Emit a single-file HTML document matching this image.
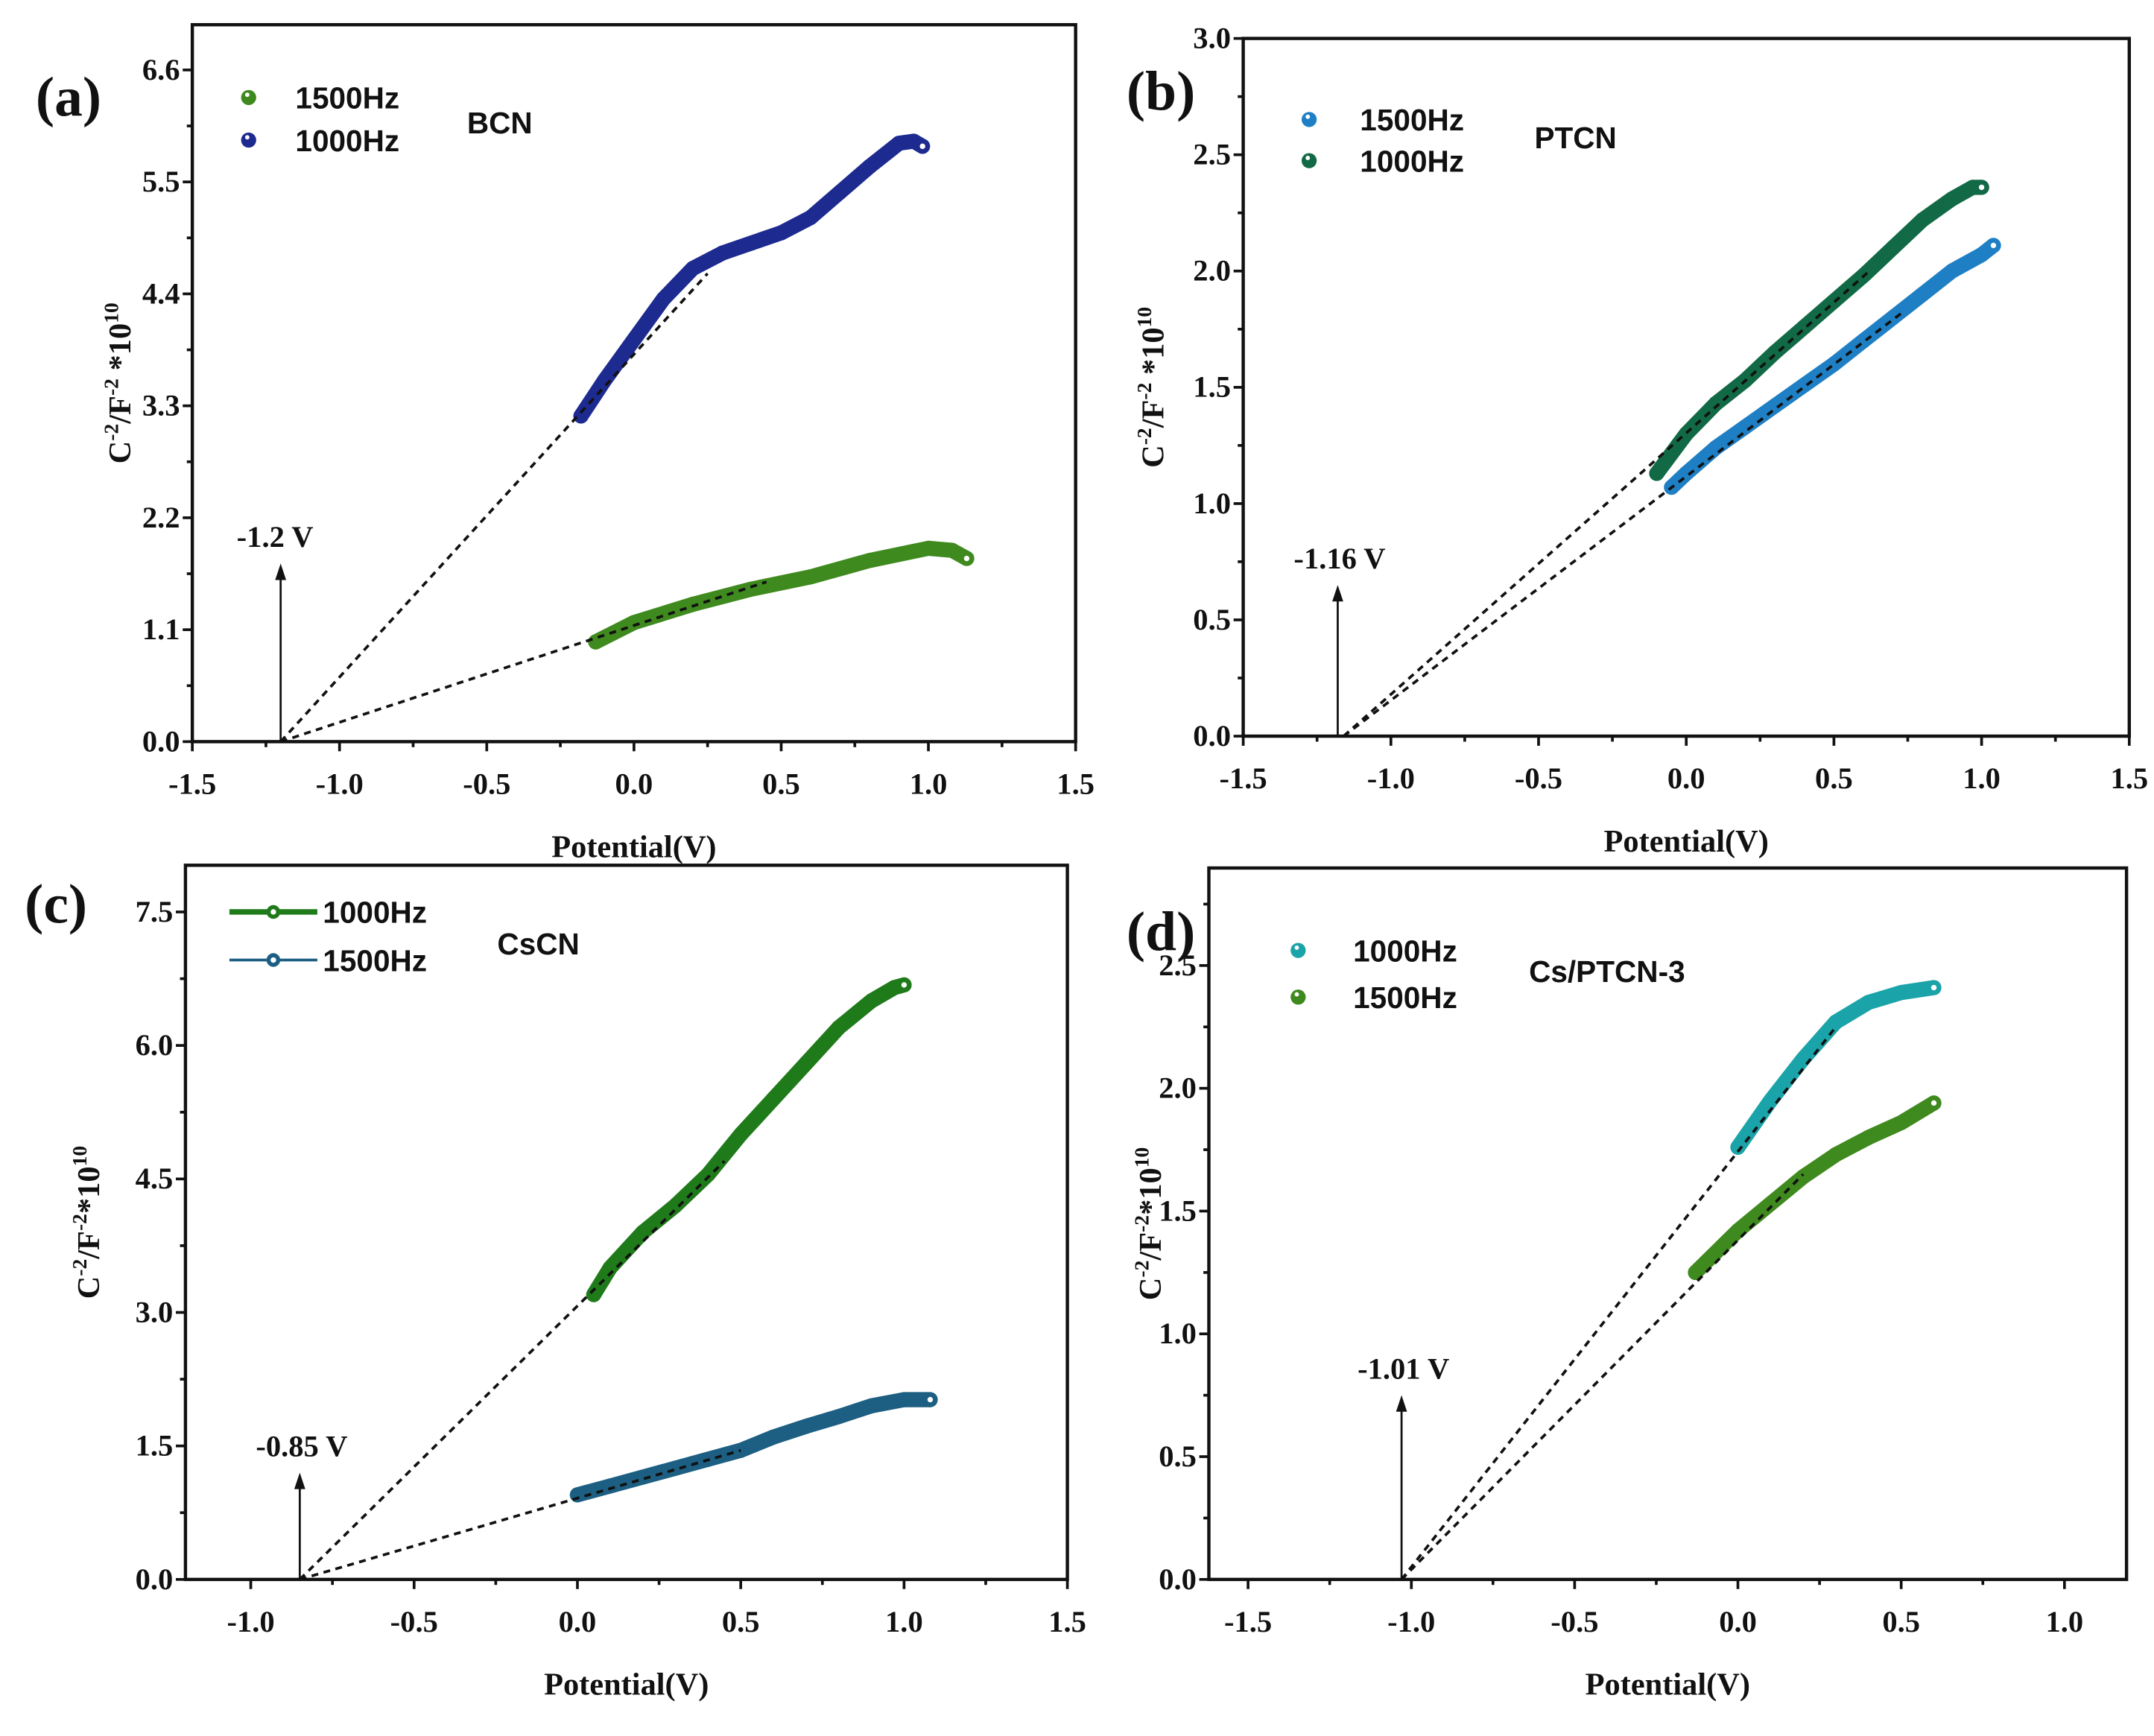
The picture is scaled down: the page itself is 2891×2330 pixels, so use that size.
<!DOCTYPE html>
<html><head><meta charset="utf-8"><style>
html,body{margin:0;padding:0;background:#fff;}
svg{display:block;}
.tk{font-family:"Liberation Serif",serif;font-weight:bold;font-size:22px;fill:#111;}
.ttl{font-family:"Liberation Serif",serif;font-weight:bold;font-size:23px;fill:#111;}
.lg{font-family:"Liberation Sans",sans-serif;font-weight:bold;font-size:22px;fill:#111;}
.pl{font-family:"Liberation Serif",serif;font-weight:bold;font-size:41px;fill:#111;}
.an{font-family:"Liberation Serif",serif;font-weight:bold;font-size:22px;fill:#111;}
</style></head><body>
<svg id="fig" width="2891" height="2330" viewBox="0 0 1568 1264" preserveAspectRatio="none" xmlns="http://www.w3.org/2000/svg"></svg>
<script>
// Panel (a) BCN
const aBlueX=[-0.18,-0.1,0,0.1,0.2,0.3,0.4,0.5,0.6,0.7,0.8,0.9,0.95,0.98];
const aBlueY=[3.2,3.55,3.95,4.35,4.65,4.8,4.9,5.0,5.15,5.4,5.65,5.88,5.9,5.85];
const aGreenX=[-0.13,0,0.2,0.4,0.6,0.8,1.0,1.08,1.13];
const aGreenY=[0.98,1.17,1.35,1.5,1.62,1.78,1.9,1.88,1.8];
const aYTicks=[0,1.1,2.2,3.3,4.4,5.5,6.6];
const aXTicks=[-1.5,-1.0,-0.5,0,0.5,1.0,1.5];
// Panel (b) PTCN
const bGreenX=[-0.1,0,0.1,0.2,0.3,0.4,0.5,0.6,0.7,0.8,0.9,0.97,1.0];
const bGreenY=[1.13,1.3,1.43,1.53,1.65,1.76,1.87,1.98,2.1,2.22,2.31,2.36,2.36];
const bBlueX=[-0.05,0,0.1,0.2,0.3,0.4,0.5,0.6,0.7,0.8,0.9,1.0,1.04];
const bBlueY=[1.07,1.13,1.24,1.33,1.42,1.51,1.6,1.7,1.8,1.9,2.0,2.07,2.11];
const bYTicks=[0,0.5,1.0,1.5,2.0,2.5,3.0];
const bXTicks=[-1.5,-1.0,-0.5,0,0.5,1.0,1.5];
// Panel (c) CsCN
const cGreenX=[0.05,0.1,0.2,0.3,0.4,0.5,0.6,0.7,0.8,0.9,0.97,1.0];
const cGreenY=[3.2,3.5,3.9,4.2,4.55,5.0,5.4,5.8,6.2,6.5,6.65,6.68];
const cBlueX=[0,0.1,0.2,0.3,0.4,0.5,0.6,0.7,0.8,0.9,1.0,1.08];
const cBlueY=[0.95,1.05,1.15,1.25,1.35,1.45,1.6,1.72,1.83,1.95,2.02,2.02];
const cYTicks=[0,1.5,3.0,4.5,6.0,7.5];
const cXTicks=[-1.0,-0.5,0,0.5,1.0,1.5];
// Panel (d) Cs/PTCN-3
const dTealX=[0,0.1,0.2,0.3,0.4,0.5,0.6];
const dTealY=[1.76,1.95,2.12,2.27,2.35,2.39,2.41];
const dGreenX=[-0.13,0,0.1,0.2,0.3,0.4,0.5,0.6];
const dGreenY=[1.25,1.42,1.53,1.64,1.73,1.8,1.86,1.94];
const dYTicks=[0,0.5,1.0,1.5,2.0,2.5];
const dXTicks=[-1.5,-1.0,-0.5,0,0.5,1.0];

const NS="http://www.w3.org/2000/svg";
const fig=document.getElementById('fig');
function mk(tag,attrs,parent,text){const e=document.createElementNS(NS,tag);for(const k in attrs)e.setAttribute(k,attrs[k]);if(text!==undefined)e.textContent=text;(parent||fig).appendChild(e);return e;}

function panel(P){
  const g=mk('g',{});
  
  
  const sx=v=>P.L+(v-P.x0)/(P.x1-P.x0)*(P.R-P.L);
  const sy=v=>P.B-(v-P.y0)/(P.y1-P.y0)*(P.B-P.T);
  P.series.forEach(s=>{
    let d='';s.x.forEach((x,i)=>{d+=(i?'L':'M')+sx(x).toFixed(1)+' '+sy(s.y[i]).toFixed(1);});
    const p=mk('path',{d:d,fill:'none',stroke:s.color,'stroke-width':11,'stroke-linecap':'round','stroke-linejoin':'round'},g);
    
    
    s.x.forEach((x,i)=>{
      const c=mk('circle',{cx:sx(x),cy:sy(s.y[i]),r:5.5,fill:s.color},g);
      
      
    });
    const l=s.x.length-1;
    mk('circle',{cx:sx(s.x[l]),cy:sy(s.y[l]),r:2,fill:'#fff'},g);
  });
  P.fits.forEach(f=>{
    const ln=mk('line',{x1:sx(P.ix),y1:sy(0),x2:sx(f[0]),y2:sy(f[1]),stroke:'#111','stroke-width':2,'stroke-dasharray':'5,4'},g);
    
    
  });
  const ax=sx(P.ax);
  mk('line',{x1:ax,y1:sy(0),x2:ax,y2:sy(P.ah)+8,stroke:'#111','stroke-width':1.5},g);
  mk('polygon',{points:`${ax-4},${sy(P.ah)+12} ${ax+4},${sy(P.ah)+12} ${ax},${sy(P.ah)}`,fill:'#111'},g);
  const at=mk('text',{x:ax-32,y:sy(P.ah)-12,class:'an'},g,P.alabel);
  
  
  const fr=mk('rect',{x:P.L,y:P.T,width:P.R-P.L,height:P.B-P.T,fill:'none',stroke:'#111','stroke-width':2.4},g);
  
  
  P.xt.forEach((v,i)=>{
    const x=sx(v);
    mk('line',{x1:x,y1:P.B,x2:x,y2:P.B+7,stroke:'#111','stroke-width':2},g);
    if(i<P.xt.length-1){const m=sx(v+(P.xt[1]-P.xt[0])/2);mk('line',{x1:m,y1:P.B,x2:m,y2:P.B+4,stroke:'#111','stroke-width':2},g);}
    const t=mk('text',{x:x,y:P.B+38,'text-anchor':'middle',class:'tk'},g,v.toFixed(1));
    
    
  });
  P.yt.forEach((v,i)=>{
    const y=sy(v);
    mk('line',{x1:P.L,y1:y,x2:P.L-7,y2:y,stroke:'#111','stroke-width':2},g);
    const m=sy(v+(P.yt[1]-P.yt[0])/2);
    if(m>P.T)mk('line',{x1:P.L,y1:m,x2:P.L-4,y2:m,stroke:'#111','stroke-width':2},g);
    const t=mk('text',{x:P.L-9,y:y+7,'text-anchor':'end',class:'tk'},g,v.toFixed(1));
    
    
  });
  const xt=mk('text',{x:(P.L+P.R)/2,y:P.B+84,'text-anchor':'middle',class:'ttl'},g,'Potential(V)');
  
  
  const yt=mk('text',{x:0,y:0,'text-anchor':'middle',class:'ttl',transform:`translate(${P.ytx},${(P.T+P.B)/2}) rotate(-90)`},g);
  
  
  mk('tspan',{},yt,'C');mk('tspan',{dy:-9,'font-size':15},yt,'-2');mk('tspan',{dy:9},yt,'/F');mk('tspan',{dy:-9,'font-size':15},yt,'-2');mk('tspan',{dy:9},yt,P.ysp?' *10':'*10');mk('tspan',{dy:-9,'font-size':15},yt,'10');
  const pl=mk('text',{x:P.plx,y:P.ply,class:'pl'},g,'('+P.id+')');
  
  
  P.legend.forEach((e,i)=>{
    const y=P.lgy+i*P.lgdy;
    if(P.lgline){mk('line',{x1:P.lgx-14,y1:y,x2:P.lgx+50,y2:y,stroke:e.color,'stroke-width':e.w},g);mk('circle',{cx:P.lgx+18,cy:y,r:5,fill:e.color},g);mk('circle',{cx:P.lgx+18,cy:y,r:2,fill:'#fff'},g);}
    else{mk('circle',{cx:P.lgx,cy:y,r:5.5,fill:e.color},g);mk('circle',{cx:P.lgx-1,cy:y-2,r:1.6,fill:'#fff'},g);}
    const t=mk('text',{x:P.lgtx,y:y+8,class:'lg'},g,e.label);
    
    
  });
  const st=mk('text',{x:P.stx,y:P.sty,class:'lg'},g,P.sample);
  
  
}

panel({id:'a',L:140,R:783,T:18,B:540,x0:-1.5,x1:1.5,y0:0,y1:522/74.1,
  xt:aXTicks,yt:aYTicks,ix:-1.2,ax:-1.2,ah:1.75,alabel:'-1.2 V',ysp:true,ytx:95,plx:26,ply:84,
  series:[{name:'bcn-1000hz',x:aBlueX,y:aBlueY,color:'#1d2a8f'},{name:'bcn-1500hz',x:aGreenX,y:aGreenY,color:'#3f8a1e'}],
  fits:[[0.25,4.6],[0.45,1.57]],
  legend:[{label:'1500Hz',color:'#3f8a1e'},{label:'1000Hz',color:'#1d2a8f'}],lgx:181,lgy:71,lgdy:31,lgtx:215,stx:340,sty:97,sample:'BCN'});
panel({id:'b',L:905,R:1550,T:28,B:536,x0:-1.5,x1:1.5,y0:0,y1:3.0,
  xt:bXTicks,yt:bYTicks,ix:-1.16,ax:-1.18,ah:0.65,alabel:'-1.16 V',ysp:true,ytx:847,plx:820,ply:80,
  series:[{name:'ptcn-1500hz',x:bBlueX,y:bBlueY,color:'#1f7fc4'},{name:'ptcn-1000hz',x:bGreenX,y:bGreenY,color:'#116a45'}],
  fits:[[0.62,2.0],[0.73,1.82]],
  legend:[{label:'1500Hz',color:'#1f7fc4'},{label:'1000Hz',color:'#116a45'}],lgx:953,lgy:87,lgdy:30,lgtx:990,stx:1117,sty:108,sample:'PTCN'});
panel({id:'c',L:135,R:777,T:630,B:1150,x0:-1.2,x1:1.5,y0:0,y1:(1150-630)/((1150-664)/7.5),
  xt:cXTicks,yt:cYTicks,ix:-0.85,ax:-0.85,ah:1.2,alabel:'-0.85 V',ysp:false,ytx:72,plx:18,ply:672,
  series:[{name:'cscn-1000hz',x:cGreenX,y:cGreenY,color:'#1f7a1a'},{name:'cscn-1500hz',x:cBlueX,y:cBlueY,color:'#1c5f82'}],
  fits:[[0.45,4.7],[0.5,1.45]],
  legend:[{label:'1000Hz',color:'#1f7a1a',w:4},{label:'1500Hz',color:'#1c5f82',w:2}],lgline:true,lgx:181,lgy:664,lgdy:35,lgtx:235,stx:362,sty:695,sample:'CsCN'});
panel({id:'d',L:880,R:1548,T:632,B:1150,x0:-1.62,x1:1.19,y0:0,y1:(1150-632)/((1150-703)/2.5),
  xt:dXTicks,yt:dYTicks,ix:-1.03,ax:-1.03,ah:0.75,alabel:'-1.01 V',ysp:false,ytx:845,plx:820,ply:692,
  series:[{name:'cs-ptcn-1000hz',x:dTealX,y:dTealY,color:'#1aa3a8'},{name:'cs-ptcn-1500hz',x:dGreenX,y:dGreenY,color:'#3f8a1e'}],
  fits:[[0.3,2.25],[0.2,1.65]],
  legend:[{label:'1000Hz',color:'#1aa3a8'},{label:'1500Hz',color:'#3f8a1e'}],lgx:945,lgy:692,lgdy:34,lgtx:985,stx:1113,sty:715,sample:'Cs/PTCN-3'});
</script>
</body></html>
